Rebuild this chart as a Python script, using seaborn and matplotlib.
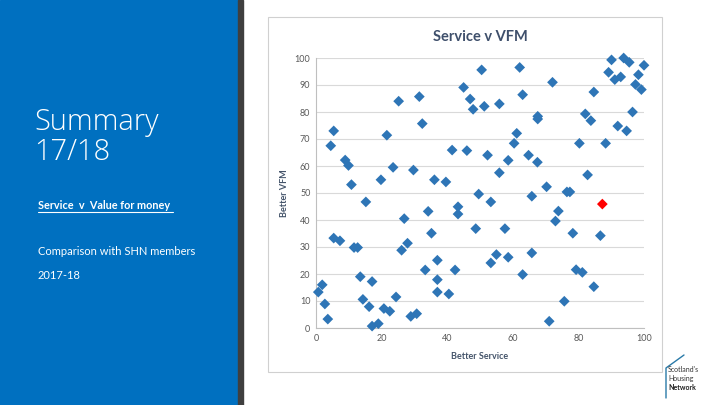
import matplotlib.pyplot as plt
import matplotlib.patches as mpatches
import pandas as pd
import seaborn as sns

# Service score (x) and VFM score (y) per SHN member, 2017-18
service = [0.7, 1.9, 2.7, 3.6, 4.5, 5.4, 5.4, 7.3, 8.9, 9.9, 10.8, 11.6, 12.7, 13.5,
           14.3, 15.2, 16.2, 17.1, 17.1, 19.0, 19.8, 20.7, 21.6, 22.5, 23.5, 24.4,
           25.2, 26.1, 26.9, 27.9, 28.9, 29.7, 30.7, 31.5, 32.4, 33.3, 34.2, 35.2,
           36.1, 37.0, 37.0, 37.0, 39.6, 40.5, 41.5, 42.4, 43.3, 43.3, 45.0, 46.0,
           47.0, 47.9, 48.7, 49.6, 50.5, 51.3, 52.3, 53.3, 53.3, 55.0, 55.9, 55.9,
           57.6, 58.6, 58.6, 60.4, 61.2, 62.1, 63.0, 63.0, 64.8, 65.8, 65.8, 67.5,
           67.6, 67.6, 70.3, 71.1, 72.1, 73.0, 73.9, 75.7, 76.5, 77.4, 78.3, 79.3,
           80.3, 81.2, 82.1, 82.8, 83.8, 84.7, 84.7, 86.7, 88.3, 89.2, 90.1, 91.1,
           92.0, 92.9, 93.8, 94.7, 95.5, 96.5, 97.4, 98.3, 99.2, 100.0]
vfm = [13.3, 16.0, 8.9, 3.3, 67.5, 73.0, 33.3, 32.3, 62.2, 60.2, 53.1, 29.8, 29.8, 19.0,
       10.6, 46.7, 7.9, 17.2, 0.7, 1.6, 54.9, 7.2, 71.4, 6.2, 59.5, 11.5,
       84.0, 28.8, 40.5, 31.4, 4.3, 58.5, 5.3, 85.7, 75.7, 21.5, 43.2, 35.1,
       54.9, 25.1, 17.9, 13.3, 54.1, 12.6, 65.9, 21.5, 44.9, 42.2, 89.1, 65.7,
       84.8, 81.0, 36.8, 49.6, 95.6, 82.1, 64.0, 24.1, 46.7, 27.2, 83.0, 57.5,
       36.8, 62.1, 26.2, 68.4, 72.1, 96.5, 86.4, 19.8, 64.0, 48.8, 27.8, 61.4,
       78.4, 77.4, 52.3, 2.5, 91.0, 39.6, 43.3, 9.9, 50.4, 50.4, 35.1, 21.6,
       68.4, 20.6, 79.3, 56.7, 76.8, 87.4, 15.3, 34.2, 68.4, 94.7, 99.3, 92.0,
       74.8, 93.0, 100.0, 73.0, 98.4, 80.0, 90.2, 93.8, 88.3, 97.3]
# our own organisation, highlighted in red
own_service = [87.3]
own_vfm = [45.9]

df = pd.DataFrame({
    "Better Service": service + own_service,
    "Better VFM": vfm + own_vfm,
    "who": ["SHN"] * len(service) + ["Us"] * len(own_service),
})

sns.set_style("white")
plt.rcParams["font.family"] = ["Lato", "DejaVu Sans"]

fig = plt.figure(figsize=(7.2, 4.05), dpi=100)
W, H = 720, 405

# left blue panel and dark divider strip
fig.patches.append(mpatches.Rectangle((0, 0), 238 / W, 1, transform=fig.transFigure,
                                      color="#0070C0", zorder=-2))
fig.patches.append(mpatches.Rectangle((238 / W, 0), 5 / W, 1, transform=fig.transFigure,
                                      color="#3F3F3F", zorder=-2))

fig.text(34 / W, 1 - 130 / H, "Summary", color="white", fontsize=21,
         family=["Open Sans", "DejaVu Sans"], fontweight="light")
fig.text(34 / W, 1 - 160 / H, "17/18", color="white", fontsize=21,
         family=["Open Sans", "DejaVu Sans"], fontweight="light")
fig.text(38 / W, 1 - 209 / H, "Service  v  Value for money", color="white", fontsize=7.8,
         fontweight="bold")
fig.add_artist(plt.Line2D([38 / W, 173 / W], [1 - 211.5 / H, 1 - 211.5 / H],
                          color="white", lw=0.8, transform=fig.transFigure))
fig.text(38 / W, 1 - 255 / H, "Comparison with SHN members", color="white", fontsize=8)
fig.text(38 / W, 1 - 279 / H, "2017-18", color="white", fontsize=8)

# chart frame
fig.patches.append(mpatches.Rectangle((268 / W, 1 - 372 / H), 394 / W, 355 / H,
                                      transform=fig.transFigure, facecolor="white",
                                      edgecolor="#D0D0D0", lw=0.8, zorder=-1))

ax = fig.add_axes([316 / W, 1 - 328 / H, 328 / W, 270 / H])
ax.set_zorder(2)
sns.scatterplot(data=df, x="Better Service", y="Better VFM", hue="who",
                palette={"SHN": "#2E75B6", "Us": "#FF0000"}, marker="D", s=30,
                edgecolor="none", legend=False, ax=ax, zorder=3, clip_on=False)

ax.set_xlim(0, 100)
ax.set_ylim(0, 100)
ax.set_xticks(range(0, 101, 20))
ax.set_yticks(range(0, 101, 10))
ax.grid(axis="y", color="#D9D9D9", lw=0.8)
ax.grid(axis="x", visible=False)
for side in ["top", "right"]:
    ax.spines[side].set_visible(False)
for side in ["left", "bottom"]:
    ax.spines[side].set_color("#BFBFBF")
ax.tick_params(axis="both", length=0, labelsize=6.5, labelcolor="#595959", pad=4)
ax.set_xlabel("Better Service", fontsize=6.5, fontweight="bold", color="#44546A", labelpad=7)
ax.set_ylabel("Better VFM", fontsize=6.5, fontweight="bold", color="#44546A", labelpad=4)
ax.set_title("Service v VFM", fontsize=10.5, fontweight="bold", color="#3E4F6B", pad=12)

# network logo (text stand-in)
fig.text(668 / W, 1 - 372 / H, "Scotland's", fontsize=5, color="#333333")
fig.text(668 / W, 1 - 381 / H, "Housing", fontsize=5, color="#333333")
fig.text(668 / W, 1 - 390 / H, "Network", fontsize=5, color="#1F1F1F", fontweight="bold")
fig.add_artist(plt.Line2D([666 / W, 666 / W, 684 / W], [1 - 398 / H, 1 - 368 / H, 1 - 355 / H],
                          color="#2A7AA8", lw=1, transform=fig.transFigure))

fig.savefig("out.png", dpi=100)
